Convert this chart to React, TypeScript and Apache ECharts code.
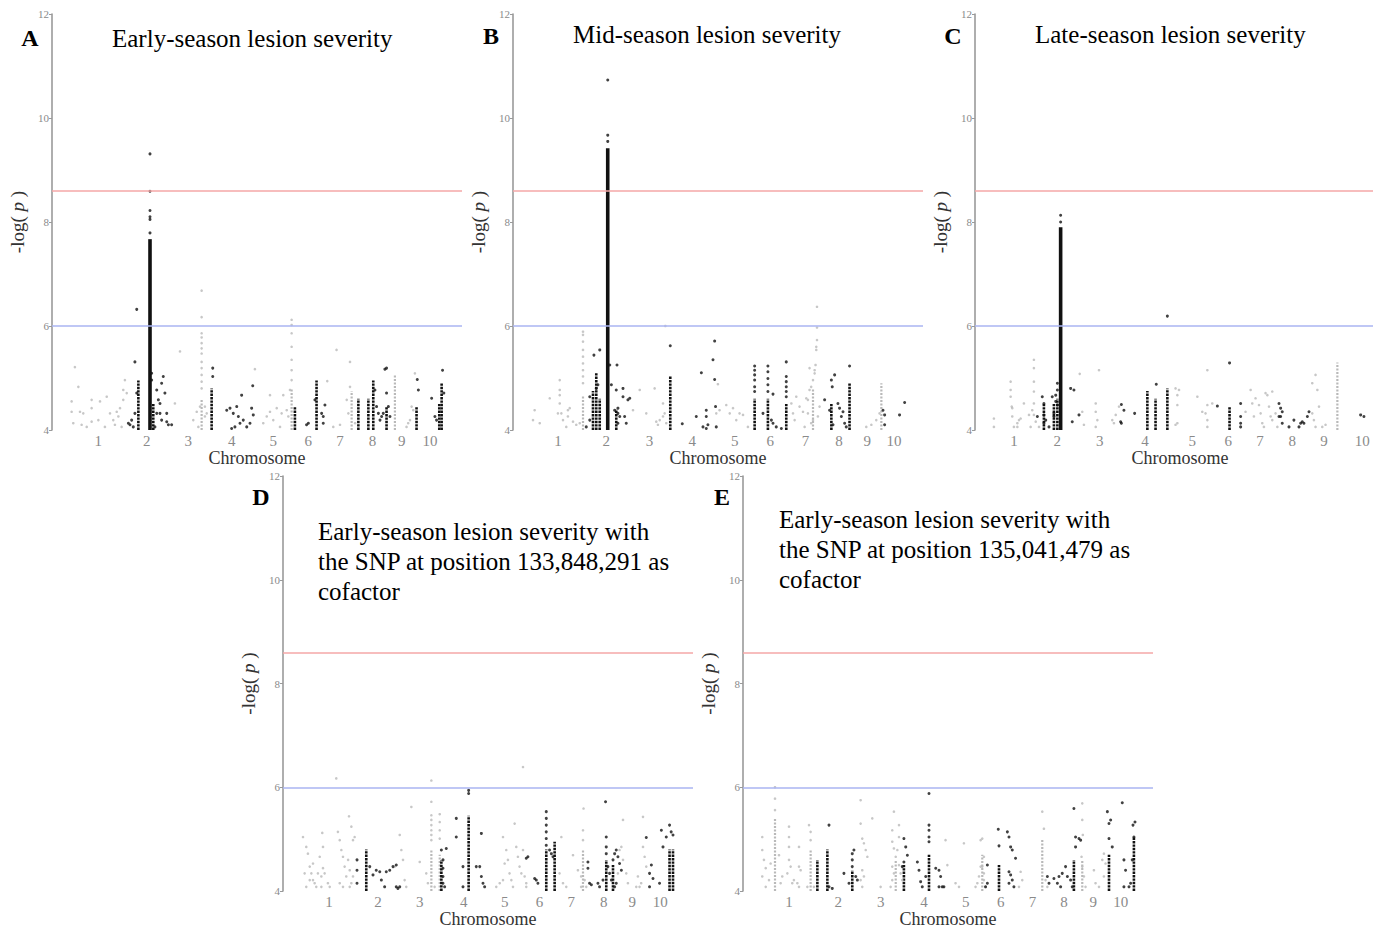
import React, { useEffect, useRef } from 'react';
import * as echarts from 'echarts';

const SERIF = '"Liberation Serif", "Times New Roman", serif';
const X_MAX = 2255; // shown genome span, Mb
const Y_MIN = 4;
const Y_MAX = 12;
const Y_STEP = 2;
const RED_THRESHOLD = 8.6;
const BLUE_THRESHOLD = 6;
const CHROMOSOMES = ['1', '2', '3', '4', '5', '6', '7', '8', '9', '10'];

// ---------- Panel A: Early-season ----------
const aCenters = [255, 521, 750, 988, 1217, 1410, 1584, 1763, 1923, 2079];
const aGray = [
  [126, 5.21], [145, 4.83], [108, 4.55], [108, 4.35], [154, 4.35], [172, 4.32], [218, 4.58], [218, 4.42],
  [264, 4.55], [301, 4.64], [117, 4.13], [163, 4.1], [191, 4.06], [218, 4.16], [255, 4.19], [319, 4.32],
  [356, 4.35], [374, 4.42], [392, 4.58], [401, 4.96], [411, 4.71], [383, 4.06], [346, 4.1], [365, 4.26],
  [291, 4.06], [337, 4.19], [392, 4.77],
  [704, 5.51], [676, 4.51], [777, 4.19], [796, 4.35], [805, 4.06], [814, 4.45],
  [823, 6.68], [823, 6.17], [823, 5.86], [823, 5.78], [823, 5.67], [823, 5.57], [823, 5.47], [823, 5.31],
  [823, 5.19], [823, 5.06], [823, 4.93], [823, 4.8], [841, 4.45], [841, 4.26], [851, 4.32],
  [1116, 5.17], [1199, 4.67], [1199, 4.35], [1181, 4.26], [1162, 4.13], [1217, 4.19], [1236, 4.42], [1254, 4.06],
  [1272, 4.67], [1291, 4.38], [1300, 4.26], [1263, 4.32],
  [1318, 6.12], [1318, 6.02], [1318, 5.86], [1318, 5.6], [1318, 5.35], [1318, 5.15], [1318, 4.96], [1309, 4.77],
  [1514, 4.94], [1565, 5.54], [1639, 5.31], [1639, 4.83], [1621, 4.58], [1630, 4.32], [1667, 4.13], [1584, 4.1], [1547, 4.06],
  [1950, 4.06], [1969, 4.19], [1978, 4.45], [1987, 4.38], [1996, 5.09], [1959, 4.13],
];
const aGrayCols = [[823, 4.6], [1318, 4.8], [1648, 4.75], [1886, 5.05]];
const aBlack = [
  [420, 4.13], [438, 4.19], [447, 4.06], [429, 4.1], [456, 5.31], [466, 6.32], [466, 4.71], [456, 4.32],
  [539, 9.31], [539, 8.59], [539, 8.22], [539, 8.1], [539, 8.05], [539, 7.79],
  [548, 5.09], [548, 4.96], [576, 4.77], [594, 4.51], [603, 4.9], [612, 5.03], [621, 4.71], [585, 4.58],
  [576, 4.32], [594, 4.32], [603, 4.19], [631, 4.32], [631, 4.16], [640, 4.1], [658, 4.1], [566, 4.06],
  [884, 5.19], [884, 5.03], [979, 4.42], [997, 4.32], [1016, 4.45], [1025, 4.26], [1034, 4.13], [1006, 4.06],
  [988, 4.03], [1043, 4.67], [1052, 4.19], [1071, 4.06], [1089, 4.13], [1098, 4.42], [1104, 4.85], [1107, 4.29], [961, 4.38],
  [1400, 4.1], [1410, 4.13], [1483, 4.32], [1492, 4.26], [1492, 4.13], [1501, 4.48], [1446, 4.58],
  [1776, 4.77], [1785, 4.45], [1795, 4.32], [1804, 4.19], [1813, 4.26], [1822, 4.32], [1831, 5.17], [1840, 5.19],
  [1840, 4.71], [1850, 4.45], [1859, 4.26],
  [2009, 4.97], [2015, 4.77], [2088, 4.61], [2106, 4.26], [2115, 4.19], [2148, 5.15], [2155, 4.71],
];
const aBlackCols = [[475, 4.95], [557, 4.5], [878, 4.8], [1336, 4.45], [1455, 4.95], [1685, 4.6], [1740, 4.6],
  [1767, 4.95], [1840, 4.45], [2005, 4.45], [2143, 4.9], [2130, 4.5]];
const aPeak = [[539, 7.67]];

// ---------- Panel B: Mid-season ----------
const bCenters = [247, 513, 751, 986, 1219, 1415, 1609, 1793, 1949, 2095];
const bGray = [
  [119, 4.38], [110, 4.19], [147, 4.13], [202, 4.61], [257, 4.96], [257, 4.77], [257, 4.67], [257, 4.51],
  [247, 4.32], [266, 4.32], [275, 4.19], [293, 4.06], [302, 4.38], [302, 4.26], [312, 4.42], [330, 4.16],
  [348, 4.1], [367, 4.13],
  [385, 5.89], [385, 5.83], [385, 5.7], [385, 5.54], [385, 5.41], [385, 5.28], [385, 5.15], [385, 5.03], [385, 4.9],
  [660, 4.38], [697, 4.77], [779, 4.8], [733, 4.32], [807, 4.19], [797, 4.1], [825, 4.51], [834, 4.32],
  [843, 4.13], [788, 4.16], [838, 6.0], [825, 4.26],
  [1118, 4.32], [1136, 4.38], [1127, 4.88], [1173, 4.48], [1192, 4.32], [1210, 4.42], [1228, 4.19], [1246, 4.32],
  [1265, 4.29], [1292, 4.06],
  [1531, 4.51], [1540, 4.32], [1549, 4.19], [1558, 4.64], [1576, 4.45], [1595, 4.35], [1604, 4.06], [1613, 4.61],
  [1622, 4.58], [1631, 4.77], [1640, 4.83], [1650, 4.96], [1659, 5.09], [1664, 5.25], [1668, 5.54], [1668, 5.6],
  [1672, 5.73], [1672, 6.37], [1672, 5.97], [1631, 5.19], [1659, 5.15], [1622, 4.32], [1650, 4.19], [1677, 4.26],
  [1686, 4.45], [1640, 4.13],
  [1943, 4.06], [1971, 4.1], [1998, 4.19], [2016, 4.32],
];
const bGrayCols = [[385, 4.65], [1650, 4.8], [2026, 4.9]];
const bBlack = [
  [521, 10.73], [521, 9.67], [521, 9.55],
  [445, 5.44], [477, 5.54], [422, 4.64], [458, 4.8], [467, 4.87], [532, 5.25], [541, 4.87], [568, 4.77], [572, 5.25],
  [577, 4.42], [577, 4.32], [577, 4.13], [559, 4.38], [587, 4.26], [605, 4.8], [605, 4.64], [614, 4.26], [623, 4.13],
  [632, 4.58], [642, 4.61], [403, 4.06], [422, 4.19],
  [865, 5.62], [931, 4.12], [1008, 4.26], [1036, 5.1], [1063, 4.38], [1063, 4.26], [1045, 4.06], [1072, 4.1],
  [1063, 4.03], [1100, 5.35], [1109, 4.97], [1109, 5.71], [1114, 4.45], [1118, 4.06],
  [1329, 5.23], [1329, 5.15], [1329, 5.06], [1329, 4.96], [1329, 4.83], [1329, 4.74],
  [1402, 5.23], [1402, 5.12], [1402, 4.99], [1402, 4.87], [1402, 4.74],
  [1503, 5.31], [1503, 5.03], [1503, 4.93], [1503, 4.83], [1503, 4.74], [1503, 4.64],
  [1375, 4.32], [1421, 4.19], [1430, 4.13], [1448, 4.06], [1476, 4.03], [1430, 4.69],
  [1714, 4.58], [1741, 4.38], [1751, 4.96], [1756, 4.83], [1769, 5.06], [1760, 4.1], [1787, 4.51], [1796, 4.42],
  [1806, 4.26], [1815, 4.35], [1824, 4.13], [1833, 4.06], [1851, 5.23],
  [2035, 4.38], [2044, 4.29], [2044, 4.1], [2126, 4.29], [2154, 4.53],
];
const bBlackCols = [[440, 4.75], [458, 5.1], [477, 4.6], [568, 4.4], [865, 5.05], [1329, 4.6], [1402, 4.6],
  [1503, 4.5], [1851, 4.9], [1751, 4.5]];
const bPeak = [[521, 9.42]];

// ---------- Panel C: Late-season ----------
const cCenters = [214, 453, 686, 935, 1195, 1393, 1567, 1745, 1919, 2130];
const cGray = [
  [104, 4.22], [104, 4.06], [196, 4.93], [196, 4.77], [196, 4.64], [202, 4.45], [205, 4.42], [214, 4.06],
  [233, 4.13], [233, 4.06], [242, 4.19], [251, 4.22], [269, 4.51], [297, 4.29], [306, 4.06], [324, 5.35],
  [324, 5.19], [324, 4.93], [324, 4.74], [324, 4.51], [315, 4.38], [324, 4.29], [334, 4.16], [352, 4.06], [205, 4.26],
  [576, 5.08], [599, 4.1], [590, 4.35],
  [664, 4.51], [664, 4.35], [673, 4.19], [664, 4.06], [682, 5.15], [755, 4.19], [764, 4.13], [774, 4.29], [792, 4.45],
  [1103, 4.8], [1113, 4.67], [1122, 4.77], [1113, 4.13], [1103, 4.1], [1113, 4.48],
  [1223, 4.64], [1278, 5.15], [1278, 4.48], [1268, 4.32], [1278, 4.19], [1278, 4.06], [1250, 4.35], [1305, 4.51],
  [1488, 4.35], [1516, 4.77], [1525, 4.51], [1534, 4.26], [1543, 4.61], [1562, 4.48], [1571, 4.32], [1580, 4.13],
  [1589, 4.06], [1598, 4.71], [1608, 4.67], [1617, 4.45], [1626, 4.26], [1635, 4.74], [1635, 4.19], [1653, 4.32], [1663, 4.06],
  [1855, 4.9], [1873, 5.06], [1883, 4.77], [1892, 4.45], [1855, 4.32], [1864, 4.19], [1873, 4.06], [1910, 4.06], [1928, 4.1],
];
const cGrayCols = [[1993, 5.3]];
const cBlack = [
  [343, 4.26], [370, 4.64], [379, 4.51], [379, 4.29], [389, 4.19], [379, 4.13], [407, 4.06], [425, 4.64],
  [434, 4.32], [434, 4.26], [444, 4.55], [444, 4.67], [453, 4.48], [453, 4.77], [453, 4.9],
  [471, 8.13], [471, 8.0],
  [526, 4.8], [544, 4.77], [535, 4.16], [572, 4.29],
  [805, 4.49], [805, 4.13], [819, 4.38], [878, 4.32], [801, 4.16],
  [997, 4.88], [1058, 6.19], [1333, 4.46],
  [1400, 5.29], [1461, 4.51], [1461, 4.26], [1461, 4.13], [1461, 4.06],
  [1672, 4.51], [1681, 4.42], [1681, 4.26], [1690, 4.35], [1690, 4.13], [1727, 4.06], [1754, 4.19], [1782, 4.06],
  [1791, 4.13], [1800, 4.16], [1828, 4.26], [1837, 4.35], [1809, 4.13], [1672, 4.26],
  [2121, 4.29], [2139, 4.26],
];
const cBlackCols = [[379, 4.5], [434, 4.5], [453, 4.6], [948, 4.75], [993, 4.6], [1058, 4.8], [1400, 4.45]];
const cPeak = [[471, 7.9]];

// ---------- Panel D: Early-season, SNP 133,848,291 as cofactor ----------
const dCenters = [253, 522, 752, 994, 1219, 1411, 1586, 1764, 1921, 2075];
const dGray = [
  [110, 5.04], [128, 4.85], [137, 4.72], [147, 4.47], [156, 4.34], [165, 4.21], [174, 4.15], [183, 4.08],
  [202, 4.66], [211, 4.28], [211, 4.08], [216, 5.12], [220, 4.85], [220, 4.44], [229, 4.34], [247, 4.15],
  [257, 4.08], [119, 4.34], [128, 4.08], [147, 4.21], [293, 6.17], [302, 5.14], [312, 4.98], [321, 4.79],
  [330, 4.66], [339, 4.47], [348, 4.28], [312, 4.15], [330, 4.08], [363, 5.44], [376, 5.24], [385, 4.98],
  [394, 5.04], [367, 4.4], [385, 4.28], [376, 4.15], [367, 4.08], [165, 4.53], [192, 4.34], [358, 4.6],
  [614, 4.47], [642, 5.08], [651, 4.79], [660, 4.6], [669, 4.21], [678, 4.08], [706, 5.62], [752, 4.56],
  [816, 6.13], [816, 5.72], [816, 5.46], [816, 5.37], [816, 5.27], [816, 5.17], [816, 5.08], [816, 4.98],
  [862, 5.48], [862, 5.33], [862, 5.17], [862, 5.01], [788, 4.34], [797, 4.15], [834, 4.08],
  [1173, 4.08], [1192, 4.15], [1210, 5.04], [1219, 4.53], [1228, 4.79], [1237, 4.6], [1246, 4.34], [1256, 4.21],
  [1265, 4.08], [1274, 5.3], [1283, 4.85], [1292, 4.66], [1301, 4.47], [1311, 4.34], [1320, 6.39], [1320, 4.79],
  [1329, 4.28], [1338, 4.15], [1338, 4.08], [1210, 4.21],
  [1531, 5.04], [1521, 4.34], [1540, 4.15], [1558, 4.08],
  [1595, 4.69], [1622, 4.4], [1640, 4.28], [1650, 4.98], [1650, 5.17], [1653, 5.59], [1640, 4.08], [1659, 4.21], [1668, 4.08],
  [1870, 5.37], [1851, 4.79], [1861, 4.85], [1870, 4.6], [1888, 4.34], [1897, 4.15], [1842, 4.34],
  [1952, 4.28], [1961, 4.08], [1980, 5.43], [1980, 4.85], [1989, 4.66], [1998, 4.47], [1970, 4.15], [1943, 4.08],
];
const dGrayCols = [[816, 4.8], [862, 4.7], [1650, 4.8]];
const dBlack = [
  [407, 4.6], [407, 4.15], [407, 4.4], [495, 4.31], [513, 4.4], [532, 4.37], [541, 4.21], [559, 4.08],
  [568, 4.37], [587, 4.4], [605, 4.47], [623, 4.5], [623, 4.08], [632, 4.05], [642, 4.08], [477, 4.47],
  [871, 4.79], [880, 4.6], [880, 4.44], [880, 4.28], [880, 4.15], [889, 4.08], [898, 4.82],
  [1021, 5.94], [1021, 5.88], [953, 5.4], [953, 5.04], [990, 4.47], [990, 4.08], [1063, 4.47], [1082, 4.47],
  [1091, 5.11], [1091, 4.28], [1100, 4.15], [1109, 4.08], [1338, 4.63], [1347, 4.66],
  [1384, 4.24], [1393, 4.21], [1402, 4.15], [1448, 5.53], [1448, 5.4], [1448, 5.27], [1448, 5.14], [1448, 5.01],
  [1448, 4.88], [1466, 4.79], [1476, 4.72], [1485, 4.66],
  [1677, 4.56], [1677, 4.44], [1686, 4.15], [1696, 4.12],
  [1732, 4.15], [1741, 4.08], [1760, 4.21], [1774, 5.72], [1778, 5.04], [1778, 4.85], [1778, 4.72], [1787, 4.47],
  [1796, 4.34], [1806, 4.21], [1815, 4.6], [1824, 4.72], [1833, 4.79], [1842, 4.66], [1851, 4.53], [1861, 4.4],
  [1824, 4.08], [1833, 4.15],
  [1998, 5.03], [2026, 4.5], [2016, 4.34], [2016, 4.08], [2035, 4.24], [2071, 4.15], [2081, 5.17], [2090, 4.85],
  [2126, 5.27], [2135, 5.14], [2145, 5.08], [2108, 5.04],
];
const dBlackCols = [[458, 4.8], [871, 4.6], [1021, 5.45], [1448, 4.8], [1494, 4.95], [1778, 4.6], [1815, 4.5],
  [2126, 4.8], [2145, 4.8]];

// ---------- Panel E: Early-season, SNP 135,041,479 as cofactor ----------
const eCenters = [253, 524, 757, 995, 1225, 1418, 1592, 1766, 1926, 2077];
const eGray = [
  [106, 5.04], [106, 4.79], [115, 4.6], [125, 4.44], [106, 4.28], [125, 4.08], [143, 4.21], [152, 4.53],
  [176, 6.0], [176, 5.78], [176, 5.56],
  [198, 4.69], [207, 4.15], [216, 4.28], [244, 4.34], [253, 5.24], [253, 5.04], [253, 4.85], [253, 4.6],
  [262, 4.47], [271, 4.15], [280, 4.21], [308, 4.85], [308, 4.47], [299, 4.15], [308, 4.08], [317, 4.4],
  [363, 5.27], [372, 5.14], [372, 4.98], [354, 4.08], [390, 4.08],
  [647, 5.75], [647, 5.3], [656, 5.01], [665, 4.92], [675, 4.79], [684, 4.66], [656, 4.4], [665, 4.28],
  [647, 4.21], [656, 4.08], [711, 5.4], [757, 4.08],
  [821, 5.17], [821, 4.95], [830, 4.82], [840, 4.66], [821, 4.47], [830, 4.34], [821, 4.21], [812, 4.08],
  [830, 5.53], [858, 5.27], [858, 5.04], [849, 4.79], [858, 4.5], [867, 4.34], [876, 4.21],
  [1114, 4.98], [1124, 4.5],
  [1169, 4.15], [1188, 4.08], [1215, 4.92], [1279, 4.08], [1289, 4.15], [1298, 4.28], [1307, 4.47], [1307, 4.98],
  [1316, 5.01], [1325, 4.66], [1316, 4.47], [1325, 4.34], [1325, 4.21], [1334, 4.08],
  [1527, 4.37], [1536, 4.21], [1518, 4.08],
  [1646, 5.53], [1655, 5.2], [1664, 4.21], [1674, 4.08],
  [1866, 5.69], [1866, 5.37], [1862, 4.66], [1866, 4.47], [1875, 4.28], [1884, 4.08], [1869, 5.08],
  [1930, 4.4], [1939, 4.15], [1958, 4.08], [1976, 4.6], [1985, 4.72], [1994, 4.53], [1985, 4.28],
];
const eGrayCols = [[176, 5.4], [372, 4.8], [840, 4.6], [1316, 4.7], [1646, 5.0], [1866, 4.6]];
const eBlack = [
  [473, 5.27], [473, 4.08], [491, 4.05], [555, 4.34], [601, 4.72], [601, 4.6], [601, 4.47], [610, 4.79],
  [620, 4.28], [629, 4.21], [583, 4.15],
  [885, 5.01], [895, 4.85], [904, 4.69], [885, 4.56], [876, 4.47],
  [959, 4.56], [968, 4.4], [977, 4.18], [986, 4.08], [1005, 4.28], [1023, 5.88], [1023, 5.27], [1023, 5.17],
  [1023, 5.04], [1023, 4.95], [1060, 4.44], [1078, 4.4], [1087, 4.28], [1096, 4.08], [1078, 4.08], [1105, 4.08],
  [1344, 4.5], [1344, 4.15], [1334, 4.08],
  [1404, 5.19], [1408, 4.87], [1454, 5.14], [1463, 5.04], [1472, 4.85], [1481, 4.79], [1499, 4.63], [1463, 4.37],
  [1472, 4.31], [1481, 4.21], [1490, 4.08], [1463, 4.15],
  [1674, 4.28], [1683, 4.15], [1710, 4.24], [1729, 4.15], [1738, 4.28], [1747, 4.08], [1756, 4.34], [1774, 4.47],
  [1784, 4.28], [1802, 4.21], [1811, 4.08], [1820, 5.59], [1829, 5.04], [1829, 4.85], [1848, 5.01], [1857, 4.98],
  [2004, 5.53], [2013, 5.3], [2022, 5.37], [2013, 5.01], [2031, 4.85], [2086, 5.7], [2095, 4.6], [2104, 4.4],
  [2095, 4.08], [2141, 4.6], [2145, 5.27], [2156, 5.33], [2150, 5.04], [2132, 4.15], [2123, 4.08],
];
const eBlackCols = [[409, 4.6], [464, 4.8], [601, 4.4], [885, 4.5], [1023, 4.7], [1408, 4.5], [1820, 4.6],
  [2013, 4.7], [2150, 5.05]];

// ---------- Titles ----------
const TITLES = [
  'Early-season lesion severity',
  'Mid-season lesion severity',
  'Late-season lesion severity',
  'Early-season lesion severity with\nthe SNP at position 133,848,291 as\ncofactor',
  'Early-season lesion severity with\nthe SNP at position 135,041,479 as\ncofactor',
];
const LETTERS = ['A', 'B', 'C', 'D', 'E'];

// ---------- layout (pixels) ----------
const GRIDS = [
  { left: 52, top: 14, width: 410, height: 416 },
  { left: 513, top: 14, width: 410, height: 416 },
  { left: 975, top: 14, width: 410, height: 416 },
  { left: 283, top: 476, width: 410, height: 415 },
  { left: 743, top: 476, width: 410, height: 415 },
];
const TITLE_POS = [
  { x: 112, y: 38 }, { x: 573, y: 34 }, { x: 1035, y: 34 }, { x: 318, y: 561 }, { x: 779, y: 549 },
];
const LETTER_POS = [
  { x: 30, y: 38 }, { x: 491, y: 36 }, { x: 953, y: 36 }, { x: 261, y: 497 }, { x: 722, y: 497 },
];

const GRAY = '#b9b9b9';
const BLACK = '#111111';

const PANELS = [
  { centers: aCenters, gray: aGray, grayCols: aGrayCols, black: aBlack, blackCols: aBlackCols, peak: aPeak },
  { centers: bCenters, gray: bGray, grayCols: bGrayCols, black: bBlack, blackCols: bBlackCols, peak: bPeak },
  { centers: cCenters, gray: cGray, grayCols: cGrayCols, black: cBlack, blackCols: cBlackCols, peak: cPeak },
  { centers: dCenters, gray: dGray, grayCols: dGrayCols, black: dBlack, blackCols: dBlackCols, peak: [] },
  { centers: eCenters, gray: eGray, grayCols: eGrayCols, black: eBlack, blackCols: eBlackCols, peak: [] },
];

function columnSeries(data: number[][], idx: number, color: string, width: number, dash: number[] | null) {
  return {
    type: 'custom',
    xAxisIndex: idx,
    yAxisIndex: idx,
    silent: true,
    data,
    renderItem: (_p: any, api: any) => {
      const x = api.value(0);
      const top = api.value(1);
      const p0 = api.coord([x, Y_MIN]);
      const p1 = api.coord([x, top]);
      return {
        type: 'line',
        shape: { x1: p0[0], y1: p0[1], x2: p1[0], y2: p1[1] },
        style: { stroke: color, lineWidth: width, lineDash: dash || undefined },
      };
    },
  };
}

function buildOption() {
  const grid: any[] = [];
  const xAxis: any[] = [];
  const yAxis: any[] = [];
  const series: any[] = [];
  const graphic: any[] = [];

  PANELS.forEach((p, i) => {
    grid.push({ ...GRIDS[i], outerBoundsMode: 'none', containLabel: false });
    const centers = p.centers;
    xAxis.push({
      type: 'value',
      gridIndex: i,
      min: 0,
      max: X_MAX,
      name: 'Chromosome',
      nameLocation: 'middle',
      nameGap: 18,
      nameTextStyle: { fontFamily: SERIF, fontSize: 18, color: '#333' },
      axisLine: { show: false },
      axisTick: { show: false },
      splitLine: { show: false },
      axisLabel: {
        customValues: centers,
        hideOverlap: false,
        margin: 3,
        fontFamily: SERIF,
        fontSize: 15,
        color: '#8a8a8a',
        formatter: (v: number) => {
          let best = 0;
          centers.forEach((c, k) => { if (Math.abs(c - v) < Math.abs(centers[best] - v)) best = k; });
          return CHROMOSOMES[best];
        },
      },
    });
    yAxis.push({
      type: 'value',
      gridIndex: i,
      min: Y_MIN,
      max: Y_MAX,
      interval: Y_STEP,
      name: '-log( {i|p} )',
      nameLocation: 'middle',
      nameGap: 25,
      nameTextStyle: {
        fontFamily: SERIF, fontSize: 19, color: '#333',
        rich: { i: { fontFamily: SERIF, fontSize: 19, fontStyle: 'italic', color: '#333' } },
      },
      axisLine: { show: true, lineStyle: { color: '#9a9a9a', width: 1.6 } },
      axisTick: { show: true, length: 3, lineStyle: { color: '#9a9a9a', width: 1 } },
      splitLine: { show: false },
      axisLabel: { fontFamily: SERIF, fontSize: 11, color: '#8a8a8a', margin: 3 },
    });

    series.push(columnSeries(p.grayCols, i, GRAY, 2.2, [2, 1.5]));
    series.push({
      type: 'scatter',
      xAxisIndex: i,
      yAxisIndex: i,
      data: p.gray,
      symbolSize: 2.6,
      itemStyle: { color: GRAY },
      silent: true,
      markLine: {
        silent: true,
        symbol: 'none',
        label: { show: false },
        lineStyle: { type: 'solid', width: 1.5 },
        data: [
          { yAxis: RED_THRESHOLD, lineStyle: { color: '#f5a7a7', type: 'solid', width: 1.5 } },
          { yAxis: BLUE_THRESHOLD, lineStyle: { color: '#aab5f2', type: 'solid', width: 1.5 } },
        ],
      },
    });
    series.push(columnSeries(p.blackCols, i, BLACK, 2.6, [2.4, 1]));
    series.push(columnSeries(p.peak, i, BLACK, 3.6, null));
    series.push({
      type: 'scatter',
      xAxisIndex: i,
      yAxisIndex: i,
      data: p.black,
      symbolSize: 3,
      itemStyle: { color: BLACK },
      silent: true,
    });

    graphic.push({
      type: 'text',
      x: TITLE_POS[i].x,
      y: TITLE_POS[i].y,
      style: {
        text: TITLES[i],
        fontFamily: SERIF,
        fontSize: 25,
        lineHeight: 30,
        fill: '#000',
        textAlign: 'left',
        textVerticalAlign: 'middle',
      },
    });
    graphic.push({
      type: 'text',
      x: LETTER_POS[i].x,
      y: LETTER_POS[i].y,
      style: {
        text: LETTERS[i],
        fontFamily: SERIF,
        fontSize: 24,
        fontWeight: 'bold',
        fill: '#000',
        textAlign: 'center',
        textVerticalAlign: 'middle',
      },
    });
  });

  return { animation: false, backgroundColor: '#fff', grid, xAxis, yAxis, series, graphic };
}

export default function App() {
  const ref = useRef<HTMLDivElement>(null);
  useEffect(() => {
    if (!ref.current) return;
    const chart = echarts.init(ref.current, undefined, { renderer: 'svg' });
    chart.setOption(buildOption() as any);
    return () => chart.dispose();
  }, []);
  return (
    <div
      ref={ref}
      style={{ position: 'absolute', left: 0, top: 0, width: 1373, height: 930, background: '#fff' }}
    />
  );
}
